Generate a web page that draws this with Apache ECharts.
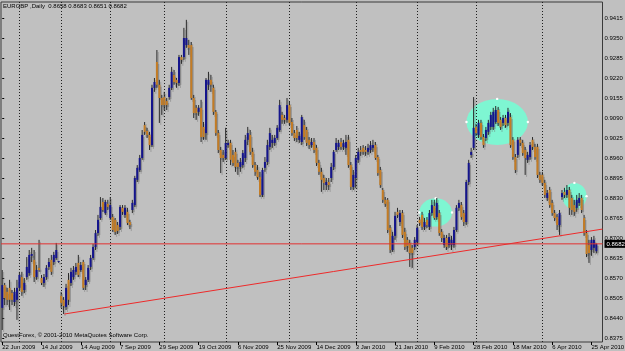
<!DOCTYPE html>
<html><head><meta charset="utf-8">
<script src="https://cdn.jsdelivr.net/npm/echarts@6/dist/echarts.min.js"></script>
<style>html,body{margin:0;padding:0;background:#c0c0c0}#c{width:625px;height:351px}</style>
</head><body><div id="c"></div>
<script>
const headerText = 'EURGBP ,Daily  0.8658 0.8683 0.8651 0.8682';
const footerText = 'QuestForex, \u00a9 2001-2010 MetaQuotes Software Corp.';
const dateLabels = ['22 Jun 2009','14 Jul 2009','14 Aug 2009','7 Sep 2009','29 Sep 2009','19 Oct 2009','6 Nov 2009','25 Nov 2009','14 Dec 2009','3 Jan 2010','21 Jan 2010','9 Feb 2010','28 Feb 2010','18 Mar 2010','6 Apr 2010','25 Apr 2010'];
const dateLabelBars = [0,16,32,48,64,80,96,112,128,144,160,176,192,208,224,240];
const priceTicks = [0.8375,0.8440,0.8505,0.8570,0.8635,0.8700,0.8765,0.8830,0.8895,0.8960,0.9025,0.9090,0.9155,0.9220,0.9285,0.9350,0.9415];
const monthSeparators = [7,24,44,66,91,117,144,169,193,220];
const bidPrice = 0.8682;
const trendLine = [[25.3,0.8454],[244.5,0.8730]];
const ellipses = [[169.9,0.8830,183.2,0.8738],[189.1,0.9153,214.1,0.9003],[228.1,0.8880,238.0,0.8794]];

const opens = [
.8474,.8548,.8526,.8539,.8522,.8493,.8500,.8539,.8574,.8532,
.8574,.8587,.8643,.8630,.8574,.8604,.8571,.8555,.8574,.8607,
.8630,.8623,.8636,.8623,.8513,.8500,.8477,.8565,.8555,.8574,
.8591,.8620,.8597,.8623,.8548,.8565,.8607,.8636,.8672,.8717,
.8766,.8818,.8782,.8812,.8766,.8769,.8760,.8743,.8737,.8799,
.8776,.8786,.8753,.8792,.8808,.8890,.8922,.8961,.9068,.9049,
.9036,.9003,.9189,.9273,.9199,.9156,.9159,.9146,.9159,.9189,
.9231,.9215,.9205,.9289,.9289,.9328,.9328,.9328,.9156,.9124,
.9111,.9124,.9062,.9042,.9199,.9215,.9189,.9111,.9042,.8987,
.8971,.8961,.9003,.9010,.8971,.8981,.8945,.8932,.8938,.8961,
.9020,.9036,.8981,.8938,.8922,.8899,.8841,.8929,.8948,.8997,
.9010,.9010,.9026,.9052,.9101,.9091,.9085,.9133,.9078,.9042,
.9052,.9020,.9013,.9068,.9052,.9020,.9003,.9013,.8994,.8945,
.8916,.8896,.8873,.8883,.8896,.8932,.8987,.8997,.9013,.8997,
.8994,.9020,.8938,.8867,.8896,.8955,.8987,.8994,.8987,.8981,
.8987,.8994,.9003,.8964,.8922,.8857,.8825,.8825,.8734,.8662,
.8708,.8786,.8753,.8782,.8721,.8695,.8685,.8669,.8672,.8688,
.8760,.8776,.8737,.8760,.8737,.8782,.8805,.8769,.8782,.8721,
.8678,.8701,.8678,.8678,.8678,.8727,.8799,.8808,.8782,.8753,
.8883,.8971,.8994,.9062,.9036,.9075,.9029,.9026,.9046,.9062,
.9062,.9078,.9117,.9085,.9075,.9091,.9075,.9094,.9020,.8964,
.8971,.9020,.9010,.8987,.8955,.8964,.9020,.8997,.8997,.8906,
.8906,.8880,.8831,.8857,.8815,.8782,.8769,.8743,.8834,.8851,
.8841,.8857,.8831,.8808,.8799,.8815,.8831,.8766,.8717,.8678,
.8662,.8669,.8658];
const closes = [
.8548,.8506,.8500,.8500,.8500,.8526,.8539,.8581,.8526,.8555,
.8607,.8646,.8649,.8574,.8597,.8597,.8555,.8574,.8604,.8623,
.8591,.8646,.8662,.8626,.8490,.8480,.8539,.8500,.8591,.8597,
.8607,.8581,.8613,.8539,.8565,.8604,.8636,.8672,.8717,.8760,
.8802,.8792,.8818,.8802,.8808,.8727,.8721,.8724,.8802,.8786,
.8799,.8750,.8743,.8815,.8896,.8929,.8961,.9036,.9046,.9036,
.9003,.9189,.9208,.9199,.9156,.9133,.9133,.9133,.9189,.9241,
.9208,.9205,.9289,.9280,.9351,.9351,.9319,.9156,.9107,.9107,
.9124,.9029,.9029,.9215,.9215,.9199,.9111,.9042,.8987,.8961,
.8961,.9010,.9010,.8955,.8945,.8932,.8932,.8948,.8977,.9020,
.9042,.8981,.8938,.8916,.8899,.8841,.8922,.8948,.9003,.9042,
.9020,.9026,.9059,.9133,.9085,.9085,.9133,.9075,.9042,.9026,
.9026,.9033,.9094,.9029,.9010,.9003,.9013,.8987,.8945,.8916,
.8890,.8880,.8883,.8873,.8932,.8981,.9010,.9010,.8997,.9010,
.9013,.8938,.8867,.8906,.8961,.8981,.8981,.8981,.8981,.8994,
.9003,.9003,.8961,.8912,.8873,.8825,.8812,.8727,.8662,.8708,
.8773,.8776,.8782,.8711,.8672,.8675,.8652,.8652,.8695,.8734,
.8750,.8737,.8753,.8743,.8782,.8808,.8766,.8815,.8717,.8701,
.8701,.8672,.8704,.8695,.8727,.8799,.8815,.8769,.8753,.8883,
.8945,.8981,.9059,.9042,.9075,.9029,.9003,.9052,.9075,.9101,
.9111,.9117,.9075,.9062,.9091,.9068,.9111,.9003,.8964,.8922,
.9020,.9010,.8977,.8961,.8971,.9003,.8997,.8964,.8906,.8890,
.8880,.8841,.8847,.8808,.8782,.8766,.8743,.8782,.8847,.8841,
.8857,.8799,.8792,.8786,.8825,.8831,.8792,.8717,.8649,.8652,
.8695,.8695,.8682];
const lows = [
.8402,.8483,.8483,.8467,.8483,.8480,.8435,.8532,.8513,.8522,
.8565,.8578,.8623,.8558,.8565,.8591,.8548,.8542,.8565,.8597,
.8581,.8613,.8630,.8620,.8474,.8454,.8467,.8483,.8545,.8565,
.8581,.8574,.8591,.8532,.8532,.8558,.8597,.8630,.8662,.8708,
.8760,.8786,.8776,.8792,.8760,.8721,.8711,.8714,.8727,.8776,
.8766,.8743,.8730,.8782,.8802,.8883,.8916,.8955,.9036,.9026,
.8987,.8997,.9176,.9189,.9075,.9101,.9117,.9117,.9150,.9182,
.9199,.9189,.9195,.9267,.9280,.9319,.9296,.9150,.9091,.9085,
.9098,.9013,.9020,.9020,.9182,.9176,.9101,.9033,.8977,.8912,
.8948,.8955,.8994,.8938,.8935,.8916,.8906,.8916,.8929,.8948,
.9003,.8971,.8929,.8903,.8890,.8834,.8834,.8916,.8938,.8987,
.8994,.9000,.9020,.9046,.9072,.9072,.9075,.9065,.9033,.9016,
.9013,.9010,.9003,.9020,.9000,.8990,.8994,.8977,.8935,.8906,
.8851,.8857,.8857,.8857,.8883,.8922,.8981,.8987,.8987,.8987,
.8971,.8929,.8857,.8857,.8864,.8945,.8968,.8971,.8968,.8971,
.8977,.8981,.8955,.8903,.8864,.8815,.8802,.8717,.8652,.8656,
.8695,.8766,.8740,.8701,.8662,.8656,.8607,.8604,.8662,.8678,
.8740,.8727,.8727,.8734,.8727,.8773,.8760,.8760,.8708,.8688,
.8669,.8662,.8669,.8662,.8669,.8721,.8789,.8760,.8740,.8743,
.8873,.8961,.8987,.9033,.9026,.9020,.8994,.9016,.9036,.9052,
.9052,.9072,.9065,.9052,.9065,.9059,.9065,.8994,.8955,.8912,
.8961,.9000,.8968,.8906,.8945,.8955,.8987,.8955,.8896,.8880,
.8870,.8831,.8821,.8799,.8773,.8756,.8727,.8711,.8825,.8831,
.8831,.8776,.8776,.8773,.8786,.8805,.8782,.8708,.8639,.8620,
.8643,.8652,.8651];
const highs = [
.8597,.8555,.8539,.8565,.8532,.8539,.8565,.8591,.8591,.8571,
.8639,.8662,.8669,.8662,.8613,.8695,.8581,.8584,.8613,.8636,
.8646,.8656,.8685,.8627,.8526,.8509,.8552,.8587,.8604,.8610,
.8620,.8646,.8623,.8630,.8574,.8613,.8646,.8682,.8727,.8776,
.8834,.8831,.8825,.8825,.8834,.8779,.8766,.8753,.8808,.8808,
.8808,.8799,.8760,.8825,.8903,.8938,.8971,.9052,.9078,.9059,
.9046,.9199,.9221,.9312,.9215,.9166,.9176,.9156,.9199,.9257,
.9247,.9221,.9296,.9296,.9384,.9410,.9345,.9338,.9166,.9133,
.9133,.9150,.9078,.9221,.9241,.9231,.9199,.9117,.9052,.8997,
.8987,.9059,.9020,.9020,.8987,.8994,.8955,.8961,.8987,.9036,
.9062,.9052,.8994,.8948,.8938,.8916,.8929,.8964,.9020,.9059,
.9036,.9036,.9068,.9150,.9111,.9101,.9156,.9143,.9091,.9052,
.9065,.9046,.9101,.9085,.9062,.9029,.9026,.9026,.9003,.8955,
.8929,.8906,.8896,.8896,.8945,.8987,.9026,.9020,.9026,.9020,
.9036,.9036,.8948,.8922,.8971,.8994,.9000,.9003,.9000,.9007,
.9016,.9020,.9013,.8971,.8932,.8864,.8834,.8831,.8743,.8721,
.8786,.8799,.8792,.8792,.8734,.8704,.8695,.8678,.8704,.8743,
.8769,.8786,.8766,.8769,.8792,.8825,.8825,.8831,.8792,.8730,
.8711,.8711,.8717,.8708,.8737,.8808,.8825,.8818,.8792,.8890,
.8955,.8994,.9159,.9072,.9085,.9085,.9039,.9062,.9085,.9111,
.9124,.9130,.9127,.9094,.9101,.9101,.9124,.9107,.9029,.8974,
.9029,.9029,.9020,.8997,.8981,.9013,.9029,.9007,.9007,.8916,
.8916,.8890,.8857,.8867,.8825,.8792,.8779,.8792,.8857,.8864,
.8873,.8867,.8841,.8825,.8841,.8847,.8841,.8776,.8727,.8695,
.8704,.8708,.8683];

const FONT = 'Liberation Sans';
const candleData = opens.map((o, i) => [i, o, closes[i], lows[i], highs[i]]);

function renderCandle(params, api) {
  const i = api.value(0), o = api.value(1), c = api.value(2), l = api.value(3), h = api.value(4);
  const pO = api.coord([i, o]), pC = api.coord([i, c]), pL = api.coord([i, l]), pH = api.coord([i, h]);
  const x = pO[0];
  const top = Math.min(pO[1], pC[1]);
  const bh = Math.max(1, Math.abs(pO[1] - pC[1]));
  const bw = 2;
  const up = c >= o;
  const ghost = 'rgba(105,105,105,0.40)';
  const dx = 1.4, dy = 2;
  return { type: 'group', children: [
    { type: 'line', shape: { x1: x + dx, y1: pH[1] + dy, x2: x + dx, y2: pL[1] + dy }, style: { stroke: ghost, lineWidth: 1 } },
    { type: 'rect', shape: { x: x - bw / 2 + dx, y: top + dy, width: bw, height: bh }, style: { fill: ghost } },
    { type: 'line', shape: { x1: x, y1: pH[1], x2: x, y2: pL[1] }, style: { stroke: '#2a2a2a', lineWidth: 1 } },
    { type: 'rect', shape: { x: x - bw / 2, y: top, width: bw, height: bh }, style: { fill: up ? '#14148c' : '#c47c24' } }
  ]};
}
function renderSeparator(params, api) {
  const cs = params.coordSys;
  const p = api.coord([api.value(0), api.value(1)]);
  const x = Math.round(p[0]) + 0.5;
  return { type: 'line', shape: { x1: x, y1: cs.y, x2: x, y2: cs.y + cs.height },
    style: { stroke: '#1e1e1e', lineWidth: 1, lineDash: [1, 2] } };
}
function renderEllipse(params, api) {
  const p1 = api.coord([api.value(0), api.value(1)]);
  const p2 = api.coord([api.value(2), api.value(3)]);
  const cx = (p1[0] + p2[0]) / 2, cy = (p1[1] + p2[1]) / 2;
  const rx = Math.abs(p2[0] - p1[0]) / 2, ry = Math.abs(p2[1] - p1[1]) / 2;
  return { type: 'group', children: [
    { type: 'circle', shape: { cx: 0, cy: 0, r: rx }, x: cx, y: cy, scaleY: ry / rx, style: { fill: '#7ef6d2' } },
    { type: 'circle', shape: { cx: cx, cy: cy - ry, r: 1.2 }, style: { fill: '#ffffff' } },
    { type: 'circle', shape: { cx: cx + rx, cy: cy, r: 1.2 }, style: { fill: '#ffffff' } },
    { type: 'circle', shape: { cx: cx - rx, cy: cy, r: 1.2 }, style: { fill: '#ffffff' } }
  ]};
}

const chart = echarts.init(document.getElementById('c'), null, { renderer: 'canvas' });
chart.setOption({
  animation: false,
  backgroundColor: '#c0c0c0',
  textStyle: { fontFamily: FONT },
  title: { text: headerText, left: 3, top: 3, padding: 0,
    textStyle: { fontSize: 6, fontWeight: 'normal', color: '#000', fontFamily: FONT } },
  graphic: [{ type: 'text', left: 3, top: 332, silent: true,
    style: { text: footerText, fontSize: 6, fill: '#000', fontFamily: FONT } }],
  grid: { left: 1, right: 22.5, top: 2, bottom: 9, containLabel: false, outerBoundsMode: 'none',
    show: true, borderColor: '#3a3a3a', borderWidth: 1, backgroundColor: 'transparent' },
  xAxis: {
    type: 'value', min: -0.5, max: 244.5,
    axisLine: { show: false }, splitLine: { show: false },
    axisTick: { show: true, customValues: dateLabelBars, length: 3, lineStyle: { color: '#000' } },
    axisLabel: { customValues: dateLabelBars, align: 'left', margin: 2, fontSize: 6, color: '#000', fontFamily: FONT,
      formatter: v => dateLabels[dateLabelBars.indexOf(Math.round(v))] || '' }
  },
  yAxis: {
    type: 'value', position: 'right', min: 0.8363, max: 0.9468, scale: true,
    axisLine: { show: false }, splitLine: { show: false },
    axisTick: { show: true, customValues: priceTicks, length: 2, lineStyle: { color: '#000' } },
    axisLabel: { customValues: priceTicks, margin: 2, fontSize: 6, color: '#000', fontFamily: FONT,
      formatter: v => v.toFixed(4) }
  },
  series: [
    { type: 'custom', name: 'ellipses', renderItem: renderEllipse, data: ellipses, z: 1,
      encode: { x: [0, 2], y: [1, 3] }, silent: true },
    { type: 'custom', name: 'months', renderItem: renderSeparator, data: monthSeparators.map(v => [v, 0.9]), z: 2,
      encode: { x: 0, y: 1 }, silent: true },
    { type: 'custom', name: 'EURGBP', renderItem: renderCandle, data: candleData, z: 5, clip: true,
      encode: { x: 0, y: [1, 2, 3, 4] } },
    { type: 'line', name: 'trend', data: trendLine, showSymbol: false, symbol: 'none', z: 6, silent: true,
      lineStyle: { color: '#ee2a2a', width: 1 } },
    { type: 'line', name: 'bid', data: [[-0.5, bidPrice], [244.5, bidPrice]], showSymbol: false, symbol: 'none', z: 7, silent: true,
      lineStyle: { color: '#e23030', width: 1 },
      endLabel: { show: true, formatter: () => bidPrice.toFixed(4), color: '#fff', backgroundColor: '#000',
        fontSize: 6, padding: [1, 2, 1, 2], distance: 2, fontFamily: FONT } }
  ]
});
</script></body></html>
